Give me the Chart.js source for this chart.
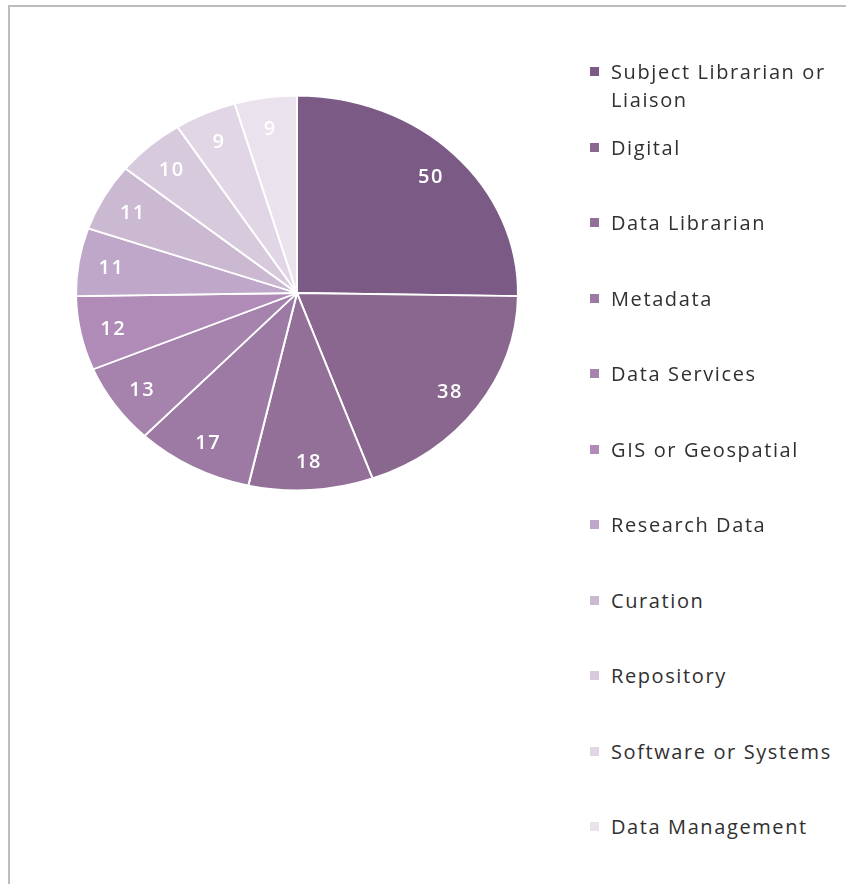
<!DOCTYPE html>
<html>
<head>
<meta charset="utf-8">
<script src="https://cdn.jsdelivr.net/npm/chart.js@4/dist/chart.umd.min.js"></script>
<style>
    html, body {
        margin: 0;
        padding: 0;
        width: 846px;
        height: 884px;
        overflow: hidden;
        background: #fff;
        font-family: 'Open Sans', sans-serif;
    }
    .frame {
        position: absolute;
        left: 8px;
        top: 5px;
        width: 900px;
        height: 950px;
        border: 2px solid #bdbdbd;
    }
    .chart-box {
        position: absolute;
        left: 0;
        top: 0;
        width: 594px;
        height: 586px;
    }
    #legend {
        position: absolute;
        left: 590px;
        top: 0;
        margin: 0;
        padding: 0;
        list-style: none;
    }
    #legend li {
        position: absolute;
        left: 0;
        white-space: nowrap;
        font-size: 20px;
        letter-spacing: 1.6px;
        line-height: 28px;
        color: #303030;
    }
    #legend .box {
        position: absolute;
        left: 0;
        top: 9px;
        width: 9px;
        height: 9px;
    }
    #legend .text {
        position: absolute;
        left: 21px;
        top: 0;
    }
</style>
</head>
<body>
<div class="frame"></div>
<div class="chart-box"><canvas id="pieChart"></canvas></div>
<ul id="legend"></ul>

<script>
const categories = [
    ['Subject Librarian or', 'Liaison'],
    'Digital',
    'Data Librarian',
    'Metadata',
    'Data Services',
    'GIS or Geospatial',
    'Research Data',
    'Curation',
    'Repository',
    'Software or Systems',
    'Data Management'
];
const counts = [50, 38, 18, 17, 13, 12, 11, 11, 10, 9, 9];
const sliceColors = [
    '#7b5b86', '#8a678f', '#937098', '#9c7aa4', '#a683ad', '#b08bb8',
    '#bfa7c9', '#cbb9d2', '#d7cadd', '#e1d6e5', '#eae3ed'
];

// pie in the reference is squashed vertically
const squashY = 0.893;

const ellipsePie = {
    id: 'ellipsePie',
    beforeDatasetsDraw(chart) {
        const arc = chart.getDatasetMeta(0).data[0];
        const ctx = chart.ctx;
        ctx.save();
        ctx.translate(arc.x, arc.y);
        ctx.scale(1, squashY);
        ctx.translate(-arc.x, -arc.y);
    },
    afterDatasetsDraw(chart) {
        const ctx = chart.ctx;
        ctx.restore();

        // value labels inside the slices
        ctx.save();
        ctx.fillStyle = '#ffffff';
        ctx.font = '600 20px "Open Sans"';
        ctx.letterSpacing = '1.5px';
        ctx.textAlign = 'center';
        ctx.textBaseline = 'middle';
        chart.getDatasetMeta(0).data.forEach((arc, i) => {
            const mid = (arc.startAngle + arc.endAngle) / 2;
            const r = arc.outerRadius * 0.85;
            const x = arc.x + Math.cos(mid) * r;
            const y = arc.y + Math.sin(mid) * r * squashY + 2;
            ctx.fillText(String(counts[i]), x, y);
        });
        ctx.restore();
    }
};

const chart = new Chart(document.getElementById('pieChart'), {
    type: 'pie',
    data: {
        labels: categories,
        datasets: [{
            data: counts,
            backgroundColor: sliceColors,
            borderColor: '#ffffff',
            borderWidth: 2,
            radius: 221
        }]
    },
    options: {
        responsive: true,
        maintainAspectRatio: false,
        animation: false,
        layout: { padding: 0 },
        plugins: {
            legend: { display: false },
            tooltip: { enabled: false }
        }
    },
    plugins: [ellipsePie]
});

// Legend built from the chart's own legend items
const legendEl = document.getElementById('legend');
const items = Chart.overrides.pie.plugins.legend.labels.generateLabels(chart);
items.forEach((item, i) => {
    const li = document.createElement('li');
    li.style.top = (58 + i * 75.5) + 'px';

    const box = document.createElement('span');
    box.className = 'box';
    box.style.background = item.fillStyle;
    li.appendChild(box);

    const text = document.createElement('span');
    text.className = 'text';
    const lines = Array.isArray(categories[i]) ? categories[i] : [categories[i]];
    lines.forEach((line, j) => {
        if (j > 0) text.appendChild(document.createElement('br'));
        text.appendChild(document.createTextNode(line));
    });
    li.appendChild(text);

    legendEl.appendChild(li);
});
</script>
</body>
</html>
